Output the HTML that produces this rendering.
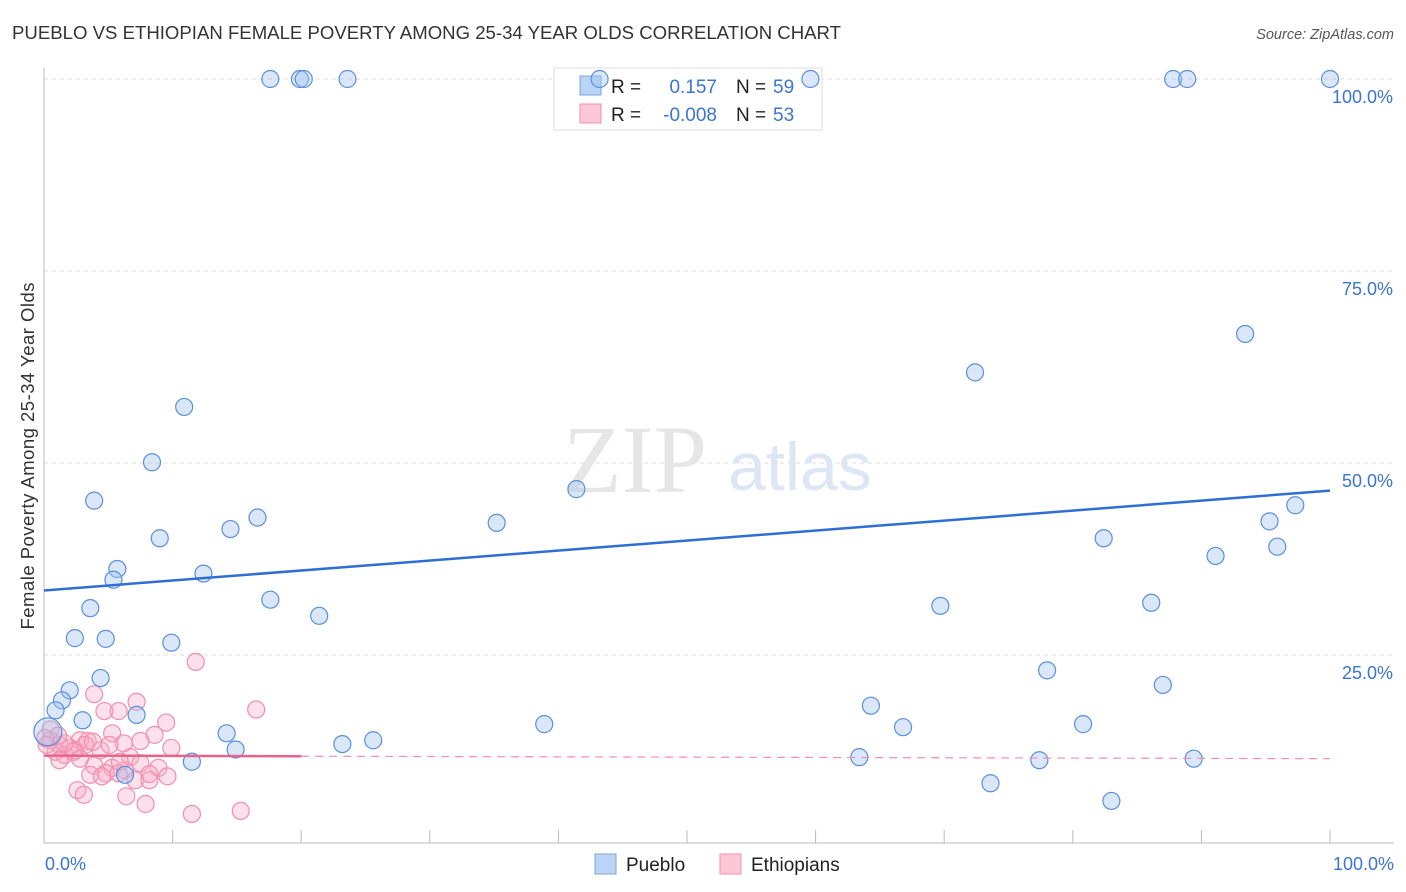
<!DOCTYPE html>
<html><head><meta charset="utf-8"><style>
body{margin:0;background:#fff;font-family:"Liberation Sans",sans-serif}
svg{display:block}
</style></head><body>
<svg id="chart" width="1406" height="892">
<text x="12" y="39" font-size="18.6" fill="#333" textLength="829">PUEBLO VS ETHIOPIAN FEMALE POVERTY AMONG 25-34 YEAR OLDS CORRELATION CHART</text>
<text x="1394" y="39" font-size="14.5" fill="#555" font-style="italic" text-anchor="end">Source: ZipAtlas.com</text>
<text x="34" y="456" font-size="18.5" fill="#333" text-anchor="middle" textLength="347" transform="rotate(-90 34 456)">Female Poverty Among 25-34 Year Olds</text>
<g id="grid"></g>
<text x="635" y="492" font-size="96" fill="#e6e6e6" font-family="Liberation Serif,serif" text-anchor="middle">ZIP</text>
<text x="800" y="490" font-size="68" fill="#dde6f5" text-anchor="middle">atlas</text>
<g>
<rect x="554" y="68" width="268" height="62" fill="#fff" stroke="#ddd"/>
<rect x="580" y="76" width="21" height="19" fill="#b9d4f5" stroke="#7aa7e0"/>
<rect x="580" y="104" width="21" height="19" fill="#fcc8d7" stroke="#f08fae"/>
<text x="611" y="93" font-size="19" fill="#222">R =</text><text x="717" y="93" font-size="19" fill="#3b74d1" text-anchor="end">0.157</text>
<text x="736" y="93" font-size="19" fill="#222">N =</text><text x="773" y="93" font-size="19" fill="#3b74d1">59</text>
<text x="611" y="121" font-size="19" fill="#222">R =</text><text x="717" y="121" font-size="19" fill="#3b74d1" text-anchor="end">-0.008</text>
<text x="736" y="121" font-size="19" fill="#222">N =</text><text x="773" y="121" font-size="19" fill="#3b74d1">53</text>
</g>
<g id="marks"></g>
<g>
<rect x="595" y="854" width="21" height="20" fill="#b9d4f5" stroke="#7aa7e0"/>
<text x="626" y="871" font-size="19" fill="#222">Pueblo</text>
<rect x="720" y="854" width="21" height="20" fill="#fcc8d7" stroke="#f08fae"/>
<text x="751" y="871" font-size="19" fill="#222">Ethiopians</text>
</g>
<text x="45" y="870" font-size="18" fill="#3b74d1">0.0%</text>
<text x="1394" y="870" font-size="18" fill="#3b74d1" text-anchor="end">100.0%</text>
</svg>
<script>
const yTicks=[100,75,50,25];
const yTickLabels=["100.0%","75.0%","50.0%","25.0%"];
const xTicks=[0,10,20,30,40,50,60,70,80,90,100];
const puebloX=[17.6,19.9,20.2,23.6,43.2,59.6,87.8,88.9,100,93.4,72.4,10.9,8.4,41.4,3.9,97.3,14.5,16.6,35.2,9.0,95.3,82.4,95.9,91.1,5.7,5.4,12.4,3.6,17.6,21.4,69.7,86.1,2.4,4.8,9.9,78.0,4.4,2.0,87.0,1.4,0.9,3.0,7.2,38.9,64.3,66.8,80.8,14.2,14.9,23.2,25.6,11.5,63.4,77.4,89.4,6.3,73.6,83.0,0.3];
const puebloY=[100,100,100,100,100,100,100,100,100,66.8,61.8,57.3,50.1,46.6,45.1,44.5,41.4,42.9,42.2,40.2,42.4,40.2,39.1,37.9,36.2,34.8,35.6,31.1,32.2,30.1,31.4,31.8,27.2,27.1,26.6,23.0,22.0,20.4,21.1,19.1,17.8,16.5,17.2,16.0,18.4,15.6,16.0,14.8,12.7,13.4,13.9,11.1,11.7,11.3,11.5,9.4,8.3,6.0,15.0];
const ethX=[11.8,3.9,16.5,7.2,4.7,5.8,9.5,8.6,5.3,2.8,3.4,0.5,1.2,2.0,0.9,1.6,2.4,3.2,4.4,6.2,9.9,6.7,7.5,3.9,5.3,6.3,4.8,3.6,8.9,9.6,4.5,5.8,7.1,8.2,2.6,3.1,6.4,7.9,11.5,15.3,0.5,0.2,1.2,2.3,3.8,5.1,7.5,8.2,1.6,1.1,2.8,5.9,0.1];
const ethY=[24.1,19.9,17.9,18.9,17.7,17.7,16.2,14.6,14.8,13.9,13.8,13.9,13.3,12.9,12.4,12.0,12.6,13.3,12.6,13.5,12.9,11.7,10.9,10.6,10.3,10.0,9.6,9.4,10.3,9.2,9.2,9.6,8.7,9.5,7.4,6.8,6.6,5.6,4.3,4.7,15.3,13.3,11.3,12.4,13.7,13.3,13.8,8.7,13.5,14.5,11.5,11.1,14.2];
const puebloTrend=[33.4,46.4];
const ethTrend=[11.9,11.5];
const NS="http://www.w3.org/2000/svg";
const X0=44,X1=1330,Y0=847,Y100=79;
const xs=v=>X0+(X1-X0)*v/100, ys=v=>Y0-(Y0-Y100)*v/100;
function mk(t,a,p){const e=document.createElementNS(NS,t);for(const k in a)e.setAttribute(k,a[k]);p.appendChild(e);return e;}
const grid=document.getElementById('grid'),marks=document.getElementById('marks');
yTicks.forEach((v,i)=>{
 const l=mk('line',{x1:X0,x2:1394,y1:ys(v),y2:ys(v),stroke:'#ddd','stroke-dasharray':'4 4'},grid);
 
 
 const t=mk('text',{x:1393,y:ys(v)+24,'font-size':18,fill:'#3b74d1','text-anchor':'end'},grid);
 t.textContent=yTickLabels[i];
 
 
});
const ax=mk('line',{x1:X0,x2:X0,y1:68,y2:843,stroke:'#bbb'},grid);


const bx=mk('line',{x1:X0,x2:1394,y1:843,y2:843,stroke:'#bbb'},grid);


xTicks.forEach(v=>{const t=mk('line',{x1:xs(v),x2:xs(v),y1:830,y2:843,stroke:'#bbb'},grid);
 
 });
ethX.forEach((x,i)=>{const c=mk('circle',{cx:xs(x),cy:ys(ethY[i]),r:8.5,fill:'rgba(248,170,195,0.35)',stroke:'#f08fae','stroke-width':1.2},marks);
 
 });
puebloX.forEach((x,i)=>{const c=mk('circle',{cx:xs(x),cy:ys(puebloY[i]),r:i==puebloX.length-1?14:8.5,fill:'rgba(160,195,240,0.4)',stroke:'#5b8fdc','stroke-width':1.2},marks);
 
 });
const pt=mk('line',{x1:xs(0),y1:ys(puebloTrend[0]),x2:xs(100),y2:ys(puebloTrend[1]),stroke:'#2f6fd4','stroke-width':2.5},marks);


const em=v=>ethTrend[0]+(ethTrend[1]-ethTrend[0])*v/100;
const e1=mk('line',{x1:xs(0),y1:ys(em(0)),x2:xs(20),y2:ys(em(20)),stroke:'#e8628c','stroke-width':2.5},marks);


const e2=mk('line',{x1:xs(20),y1:ys(em(20)),x2:xs(100),y2:ys(em(100)),stroke:'#f08fae','stroke-width':1.2,'stroke-dasharray':'8 6'},marks);


</script>
</body></html>
